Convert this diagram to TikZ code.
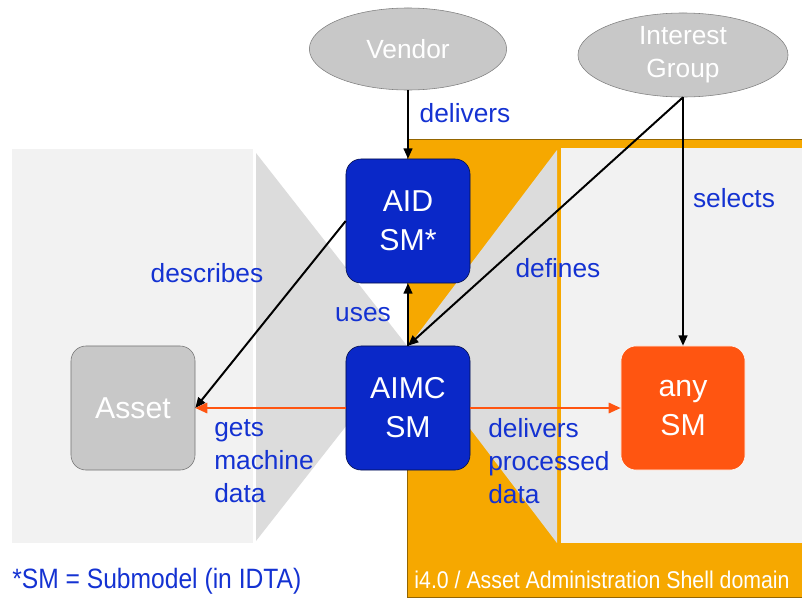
\documentclass[tikz,border=0pt]{standalone}
\usepackage{fontspec}
\setmainfont{Liberation Sans}
\newfontfamily\narrowsans[FakeStretch=0.88]{Liberation Sans}
\usetikzlibrary{arrows.meta,shapes.geometric}

\definecolor{panelgray}{HTML}{F2F2F2}
\definecolor{funnelgray}{HTML}{DCDCDC}
\definecolor{domainorange}{HTML}{F6A800}
\definecolor{smblue}{HTML}{0A28C8}
\definecolor{smorange}{HTML}{FF5511}
\definecolor{nodegray}{HTML}{C8C8C8}
\definecolor{textblue}{HTML}{1432D2}

\begin{document}
\begin{tikzpicture}[x=0.025cm, y=-0.025cm,  % 1 单位 = 1 像素
    smbox/.style={rectangle, rounded corners=0.375cm, minimum width=3.1cm, minimum height=3.1cm,
        fill=smblue, draw=smblue!35!black, text=white, align=center,
        font=\fontsize{21.5}{27.7}\selectfont},
    party/.style={ellipse, fill=nodegray, draw=gray, text=white, align=center, inner sep=0pt,
        font=\fontsize{18.7}{23.5}\selectfont},
    lbl/.style={text=textblue, inner sep=0pt, font=\fontsize{18.7}{23.5}\selectfont},
    blackarrow/.style={line width=1.4pt, -{Triangle[length=2.6mm,width=2.2mm]}},
    dataarrow/.style={line width=1.4pt, draw=smorange, -{Triangle[length=3mm,width=2.6mm]}}]

    \useasboundingbox (0,0) rectangle (802,599);

    % 左边的灰色区域和漏斗
    \fill[panelgray] (12,149) rectangle (253,543);
    \fill[funnelgray] (256,153) -- (256,541) -- (408,347) -- cycle;

    % 橙色的 i4.0 区域
    \filldraw[fill=domainorange, draw=domainorange!60!black, line width=0.6pt] (407,139) rectangle (808,597);
    \fill[funnelgray] (557,150) -- (557,543) -- (408,347) -- cycle;
    \fill[panelgray] (561,148) rectangle (808,543);

    % 参与方
    \node[party, minimum width=4.93cm, minimum height=2.05cm] (vendor) at (408,49) {Vendor};
    \node[party, minimum width=5.25cm, minimum height=2.1cm] (group) at (683,55) {Interest\\Group};

    % 子模型和资产
    \node[smbox] (aid) at (408,221) {AID\\SM*};
    \node[smbox] (aimc) at (408,408) {AIMC\\SM};
    \node[smbox, fill=nodegray, draw=gray!90!black] (asset) at (133,408) {Asset};
    \node[smbox, fill=smorange, draw=white] (anysm) at (683,408) {any\\SM};

    % 箭头
    \draw[blackarrow] (vendor.south) -- (aid.north);
    \draw[blackarrow] (group.south) -- (anysm.north);
    \draw[blackarrow] (group.south) -- (aimc.north);
    \draw[blackarrow] (aimc.north) -- (aid.south);
    \draw[blackarrow] (aid.west) -- (asset.east);
    \draw[dataarrow] (aimc.west) -- (asset.east);
    \draw[dataarrow] (aimc.east) -- (anysm.west);

    % 标签
    \node[lbl] (delivers) at (465,113) {delivers};
    \node[lbl] (selects) at (734,198) {selects};
    \node[lbl] (defines) at (558,268) {defines};
    \node[lbl] (describes) at (207,273) {describes};
    \node[lbl] (uses) at (363,315) {uses};
    \node[lbl, anchor=west, align=left] (getsdata) at (214,461) {gets\\machine\\data};
    \node[lbl, anchor=west, align=left] (procdata) at (488,461) {delivers\\processed\\data};

    % 脚注和区域名
    \node[anchor=west, inner sep=0pt, text=textblue, font=\narrowsans\fontsize{19.9}{24}\selectfont] (note) at (12,581) {*SM = Submodel (in IDTA)};
    \node[text=white, inner sep=0pt, font=\narrowsans\fontsize{17.2}{20}\selectfont] (domain) at (602,580) {i4.0 / Asset Administration Shell domain};

\end{tikzpicture}
\end{document}
